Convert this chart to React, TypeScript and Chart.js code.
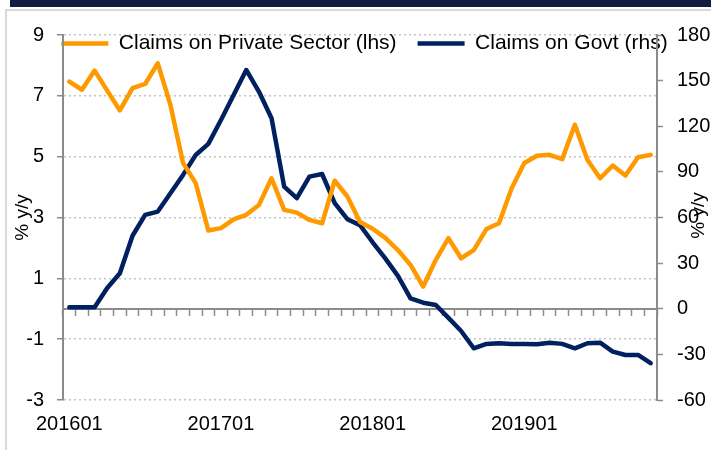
import { useEffect, useRef } from 'react';
import { Chart, registerables } from 'chart.js';

Chart.register(...registerables);

const categories = [
  '201601', '201602', '201603', '201604', '201605', '201606', '201607', '201608', '201609', '201610', '201611', '201612',
  '201701', '201702', '201703', '201704', '201705', '201706', '201707', '201708', '201709', '201710', '201711', '201712',
  '201801', '201802', '201803', '201804', '201805', '201806', '201807', '201808', '201809', '201810', '201811', '201812',
  '201901', '201902', '201903', '201904', '201905', '201906', '201907', '201908', '201909', '201910', '201911',
];

const privateSector = [
  7.47, 7.2, 7.83, 7.17, 6.52, 7.25, 7.39, 8.07, 6.7, 4.79, 4.13, 2.57,
  2.65, 2.94, 3.09, 3.41, 4.29, 3.25, 3.16, 2.92, 2.81, 4.21, 3.69, 2.85,
  2.63, 2.33, 1.93, 1.44, 0.73, 1.61, 2.32, 1.66, 1.93, 2.62, 2.81, 3.96,
  4.79, 5.03, 5.06, 4.92, 6.05, 4.89, 4.29, 4.71, 4.38, 4.98, 5.06,
];

const govt = [
  1, 1, 1, 13.7, 23.3, 48, 61.7, 63.9, 75.9, 88, 101.1, 108.4,
  124.1, 140.6, 157, 142.8, 125.3, 80.3, 72.7, 86.9, 88.6, 69.4, 58.9, 55,
  43.7, 33.1, 21.6, 6.8, 4.0, 2.5, -6, -14.6, -26, -23.1, -22.7, -23.1,
  -23.1, -23.3, -22.3, -23.1, -26, -22.7, -22.3, -28.2, -30.4, -30.4, -35.8,
];

const shownXLabels = ['201601', '201701', '201801', '201901'];
const leftTicks = [-3, -1, 1, 3, 5, 7, 9];
const rightTicks = [-60, -30, 0, 30, 60, 90, 120, 150, 180];

const ORANGE = '#FF9900';
const NAVY = '#002060';
const AXIS = '#8c8c8c';
const GRID = '#c4c4c4';
const FONT = '"Liberation Sans", Arial, sans-serif';

export default function App() {
  const ref = useRef<HTMLCanvasElement>(null);

  useEffect(() => {
    document.body.style.margin = '0';
    const canvas = ref.current;
    if (!canvas) return;
    Chart.defaults.font.family = FONT;
    Chart.defaults.color = '#000';

    const legendFix = {
      id: 'legendFix',
      beforeLayout(chart: any) {
        const lg = chart.legend;
        if (lg && !lg._fixedFit) {
          const f = lg.fit;
          lg.fit = function () {
            f.call(this);
            this.height = 23;
          };
          lg._fixedFit = true;
        }
      },
      afterLayout(chart: any) {
        const lg = chart.legend;
        if (lg) {
          lg.height = 60;
          lg.bottom = lg.top + 60;
        }
      },
    };

    const rightTitle = {
      id: 'rightTitle',
      afterDraw(chart: any) {
        const s = chart.scales.y1;
        const { ctx, chartArea } = chart;
        ctx.save();
        ctx.translate(s.left + 42, (chartArea.top + chartArea.bottom) / 2 - 2);
        ctx.rotate(-Math.PI / 2);
        ctx.font = '19px ' + FONT;
        ctx.fillStyle = '#000';
        ctx.textAlign = 'center';
        ctx.textBaseline = 'middle';
        ctx.fillText('% y/y', 0, 0);
        ctx.restore();
      },
    };

    const chart = new Chart(canvas, {
      type: 'line',
      data: {
        labels: categories,
        datasets: [
          {
            label: 'Claims on Private Sector (lhs)',
            data: privateSector,
            borderColor: ORANGE,
            backgroundColor: ORANGE,
            borderWidth: 4.5,
            pointRadius: 0,
            tension: 0,
            borderCapStyle: 'round',
            borderJoinStyle: 'round',
            xAxisID: 'x',
            yAxisID: 'y',
          },
          {
            label: 'Claims on Govt (rhs)',
            data: govt,
            borderColor: NAVY,
            backgroundColor: NAVY,
            borderWidth: 4.5,
            pointRadius: 0,
            tension: 0,
            borderCapStyle: 'round',
            borderJoinStyle: 'round',
            xAxisID: 'x',
            yAxisID: 'y1',
          },
        ],
      },
      options: {
        responsive: false,
        maintainAspectRatio: false,
        animation: false,
        devicePixelRatio: 1,
        layout: { padding: { left: 18, top: 12, right: 0, bottom: 0 } },
        plugins: {
          legend: {
            position: 'top',
            align: 'center',
            labels: {
              usePointStyle: true,
              pointStyle: 'line',
              pointStyleWidth: 47,
              padding: 21,
              font: { size: 21 },
              color: '#000',
            },
          },
          tooltip: { enabled: false },
        },
        scales: {
          x: {
            type: 'category',
            position: 'bottom',
            offset: true,
            grid: { display: false, drawTicks: false },
            border: { display: false },
            ticks: {
              autoSkip: false,
              maxRotation: 0,
              minRotation: 0,
              padding: 12,
              font: { size: 20 },
              color: '#000',
              callback: (_v: any, i: number) => (shownXLabels.includes(categories[i]) ? categories[i] : ''),
            },
            afterFit: (s: any) => {
              s.height = 50;
            },
          },
          x2: {
            type: 'category',
            axis: 'x',
            position: { y: 0 },
            offset: true,
            grid: {
              display: true,
              drawOnChartArea: false,
              drawTicks: true,
              tickLength: 6,
              offset: true,
              color: AXIS,
              tickColor: AXIS,
              tickWidth: 1.5,
            },
            border: { display: true, color: AXIS, width: 2 },
            ticks: { display: false },
            afterFit: (s: any) => {
              s.height = 0;
            },
          },
          y: {
            type: 'linear',
            position: 'left',
            min: leftTicks[0],
            max: leftTicks[leftTicks.length - 1],
            ticks: {
              stepSize: leftTicks[1] - leftTicks[0],
              padding: 13,
              font: { size: 20 },
              color: '#000',
            },
            grid: {
              color: GRID,
              lineWidth: 1.5,
              tickLength: 6,
              tickColor: AXIS,
              tickWidth: 1.5,
              tickBorderDash: [],
            },
            border: { display: true, color: AXIS, width: 2, dash: [2, 3] },
            title: {
              display: true,
              text: '% y/y',
              font: { size: 19 },
              color: '#000',
              padding: { top: -7, bottom: 0 },
            },
            afterFit: (s: any) => {
              s.width = 45;
            },
          },
          y1: {
            type: 'linear',
            position: 'right',
            min: rightTicks[0],
            max: rightTicks[rightTicks.length - 1],
            ticks: {
              stepSize: rightTicks[1] - rightTicks[0],
              padding: 14,
              font: { size: 20 },
              color: '#000',
            },
            grid: {
              drawOnChartArea: false,
              tickLength: 6,
              color: AXIS,
              tickColor: AXIS,
              tickWidth: 1.5,
            },
            border: { display: true, color: AXIS, width: 2 },
            afterFit: (s: any) => {
              s.width = 54;
            },
          },
        },
      } as any,
      plugins: [legendFix, rightTitle],
    });

    return () => chart.destroy();
  }, []);

  return (
    <div
      style={{
        position: 'fixed',
        left: 0,
        top: 0,
        width: 711,
        height: 450,
        overflow: 'hidden',
        background: '#fff',
      }}
    >
      <div style={{ position: 'absolute', left: 10, top: 0, width: 701, height: 7, background: '#131B41' }} />
      <div
        style={{
          position: 'absolute',
          left: 5,
          top: 9,
          width: 706,
          height: 441,
          borderLeft: '2px solid #dadada',
          borderTop: '2px solid #dadada',
          boxSizing: 'border-box',
        }}
      />
      <canvas ref={ref} width={711} height={450} style={{ position: 'absolute', left: 0, top: 0, width: 711, height: 450 }} />
    </div>
  );
}
